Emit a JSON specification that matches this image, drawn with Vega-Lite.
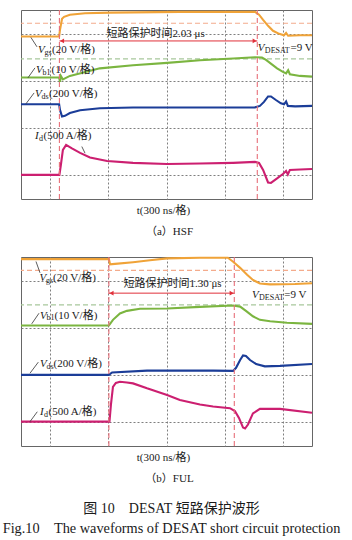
{
  "$schema": "https://vega.github.io/schema/vega-lite/v6.json",
  "autosize": {"type": "none"},
  "padding": {"left": 21, "top": 10, "right": 331, "bottom": 530},
  "background": "white",
  "spacing": 58,
  "bounds": "flush",
  "title": {
    "text": "图 10　DESAT 短路保护波形",
    "subtitle": "Fig.10　The waveforms of DESAT short circuit protection",
    "orient": "bottom", "anchor": "middle", "frame": "bounds",
    "offset": 17, "dx": 5,
    "font": "Liberation Serif, Noto Sans CJK SC", "fontSize": 14, "fontWeight": "normal", "color": "#1a1a1a",
    "subtitleFont": "Liberation Serif, Noto Sans CJK SC", "subtitleFontSize": 14.3, "subtitleColor": "#1a1a1a", "subtitlePadding": 6
  },
  "config": {
    "view": {"stroke": "#666666", "strokeWidth": 1},
    "text": {"font": "Liberation Serif, Noto Sans CJK SC", "fontSize": 11, "color": "#1a1a1a"},
    "title": {"font": "Liberation Serif, Noto Sans CJK SC", "fontSize": 11, "fontWeight": "normal", "color": "#1a1a1a"},
    "axis": {"grid": true, "gridColor": "#7f7f7f", "gridWidth": 1, "gridOpacity": 1, "gridDash": [2, 2], "labels": false, "ticks": false, "domain": false}
  },
  "datasets": {
    "a_tr": [
      {"s":"Vgs","t":0,"v":6.88},{"s":"Vgs","t":1.31,"v":6.88},{"s":"Vgs","t":1.34,"v":7.16},{"s":"Vgs","t":1.41,"v":7.63},{"s":"Vgs","t":1.48,"v":7.71},{"s":"Vgs","t":1.68,"v":7.80},{"s":"Vgs","t":2.2,"v":7.86},{"s":"Vgs","t":3.06,"v":7.89},{"s":"Vgs","t":5.46,"v":7.92},{"s":"Vgs","t":8.04,"v":7.92},{"s":"Vgs","t":8.18,"v":7.80},{"s":"Vgs","t":8.32,"v":7.58},{"s":"Vgs","t":8.49,"v":7.33},{"s":"Vgs","t":8.66,"v":7.12},{"s":"Vgs","t":8.87,"v":6.99},{"s":"Vgs","t":9.04,"v":6.93},{"s":"Vgs","t":9.11,"v":7.03},{"s":"Vgs","t":9.18,"v":6.91},{"s":"Vgs","t":9.59,"v":6.93},{"s":"Vgs","t":10,"v":6.93},
      {"s":"Vb1","t":0,"v":5.14},{"s":"Vb1","t":1.31,"v":5.14},{"s":"Vb1","t":1.34,"v":4.96},{"s":"Vb1","t":1.37,"v":5.21},{"s":"Vb1","t":1.44,"v":5.06},{"s":"Vb1","t":1.68,"v":5.21},{"s":"Vb1","t":2.71,"v":5.53},{"s":"Vb1","t":3.85,"v":5.66},{"s":"Vb1","t":5.02,"v":5.76},{"s":"Vb1","t":6.15,"v":5.87},{"s":"Vb1","t":7.29,"v":5.95},{"s":"Vb1","t":8.04,"v":6.0},{"s":"Vb1","t":8.28,"v":5.99},{"s":"Vb1","t":8.42,"v":5.89},{"s":"Vb1","t":8.80,"v":5.53},{"s":"Vb1","t":9.00,"v":5.38},{"s":"Vb1","t":9.11,"v":5.32},{"s":"Vb1","t":9.18,"v":5.45},{"s":"Vb1","t":9.24,"v":5.28},{"s":"Vb1","t":9.59,"v":5.21},{"s":"Vb1","t":10,"v":5.18},
      {"s":"Vds","t":0,"v":4.01},{"s":"Vds","t":1.31,"v":4.01},{"s":"Vds","t":1.34,"v":3.77},{"s":"Vds","t":1.41,"v":3.49},{"s":"Vds","t":1.51,"v":3.52},{"s":"Vds","t":1.68,"v":3.64},{"s":"Vds","t":2.03,"v":3.76},{"s":"Vds","t":2.71,"v":3.84},{"s":"Vds","t":3.85,"v":3.87},{"s":"Vds","t":6.15,"v":3.87},{"s":"Vds","t":8.04,"v":3.88},{"s":"Vds","t":8.21,"v":3.94},{"s":"Vds","t":8.35,"v":4.11},{"s":"Vds","t":8.49,"v":4.34},{"s":"Vds","t":8.59,"v":4.34},{"s":"Vds","t":8.76,"v":4.19},{"s":"Vds","t":8.93,"v":4.05},{"s":"Vds","t":9.04,"v":4.01},{"s":"Vds","t":9.11,"v":4.13},{"s":"Vds","t":9.17,"v":3.94},{"s":"Vds","t":9.42,"v":3.92},{"s":"Vds","t":10,"v":3.94},
      {"s":"Id","t":0,"v":1.02},{"s":"Id","t":1.32,"v":1.02},{"s":"Id","t":1.37,"v":1.44},{"s":"Id","t":1.44,"v":2.08},{"s":"Id","t":1.55,"v":2.29},{"s":"Id","t":1.75,"v":2.14},{"s":"Id","t":2.03,"v":1.95},{"s":"Id","t":2.37,"v":1.76},{"s":"Id","t":2.96,"v":1.61},{"s":"Id","t":3.85,"v":1.53},{"s":"Id","t":5.02,"v":1.48},{"s":"Id","t":6.15,"v":1.50},{"s":"Id","t":7.29,"v":1.53},{"s":"Id","t":8.04,"v":1.57},{"s":"Id","t":8.18,"v":1.53},{"s":"Id","t":8.32,"v":1.23},{"s":"Id","t":8.49,"v":0.70},{"s":"Id","t":8.59,"v":0.68},{"s":"Id","t":8.80,"v":0.87},{"s":"Id","t":9.00,"v":1.06},{"s":"Id","t":9.11,"v":1.19},{"s":"Id","t":9.17,"v":1.04},{"s":"Id","t":9.24,"v":1.23},{"s":"Id","t":9.59,"v":1.25},{"s":"Id","t":10,"v":1.27}
    ],
    "b_tr": [
      {"s":"Vgs","t":0,"v":7.91},{"s":"Vgs","t":3.02,"v":7.91},{"s":"Vgs","t":3.06,"v":7.69},{"s":"Vgs","t":3.23,"v":7.71},{"s":"Vgs","t":3.85,"v":7.78},{"s":"Vgs","t":4.43,"v":7.86},{"s":"Vgs","t":5.02,"v":7.94},{"s":"Vgs","t":6.15,"v":7.97},{"s":"Vgs","t":7.11,"v":7.97},{"s":"Vgs","t":7.29,"v":7.80},{"s":"Vgs","t":7.53,"v":7.54},{"s":"Vgs","t":7.77,"v":7.25},{"s":"Vgs","t":7.97,"v":7.03},{"s":"Vgs","t":8.21,"v":6.88},{"s":"Vgs","t":8.56,"v":6.84},{"s":"Vgs","t":9.42,"v":6.86},{"s":"Vgs","t":10,"v":6.89},
      {"s":"Vb1","t":0,"v":5.10},{"s":"Vb1","t":3.02,"v":5.10},{"s":"Vb1","t":3.16,"v":5.34},{"s":"Vb1","t":3.40,"v":5.61},{"s":"Vb1","t":3.64,"v":5.72},{"s":"Vb1","t":4.09,"v":5.81},{"s":"Vb1","t":5.02,"v":5.82},{"s":"Vb1","t":6.15,"v":5.89},{"s":"Vb1","t":7.29,"v":5.95},{"s":"Vb1","t":7.53,"v":5.90},{"s":"Vb1","t":7.73,"v":5.72},{"s":"Vb1","t":7.97,"v":5.49},{"s":"Vb1","t":8.21,"v":5.34},{"s":"Vb1","t":8.56,"v":5.28},{"s":"Vb1","t":9.14,"v":5.22},{"s":"Vb1","t":10,"v":5.17},
      {"s":"Vds","t":0,"v":3.01},{"s":"Vds","t":3.02,"v":3.01},{"s":"Vds","t":3.13,"v":3.11},{"s":"Vds","t":4.33,"v":3.19},{"s":"Vds","t":6.60,"v":3.19},{"s":"Vds","t":7.29,"v":3.18},{"s":"Vds","t":7.39,"v":3.31},{"s":"Vds","t":7.53,"v":3.64},{"s":"Vds","t":7.63,"v":3.83},{"s":"Vds","t":7.73,"v":3.81},{"s":"Vds","t":7.87,"v":3.64},{"s":"Vds","t":8.08,"v":3.47},{"s":"Vds","t":8.38,"v":3.37},{"s":"Vds","t":8.90,"v":3.39},{"s":"Vds","t":10,"v":3.47},
      {"s":"Id","t":0,"v":1.03},{"s":"Id","t":3.04,"v":1.03},{"s":"Id","t":3.09,"v":1.74},{"s":"Id","t":3.16,"v":2.50},{"s":"Id","t":3.26,"v":2.67},{"s":"Id","t":3.40,"v":2.72},{"s":"Id","t":3.64,"v":2.69},{"s":"Id","t":3.85,"v":2.65},{"s":"Id","t":4.33,"v":2.44},{"s":"Id","t":5.02,"v":2.16},{"s":"Id","t":5.46,"v":1.95},{"s":"Id","t":6.15,"v":1.76},{"s":"Id","t":6.60,"v":1.67},{"s":"Id","t":7.18,"v":1.60},{"s":"Id","t":7.35,"v":1.48},{"s":"Id","t":7.49,"v":1.19},{"s":"Id","t":7.63,"v":0.78},{"s":"Id","t":7.70,"v":0.74},{"s":"Id","t":7.80,"v":0.91},{"s":"Id","t":7.97,"v":1.38},{"s":"Id","t":8.21,"v":1.57},{"s":"Id","t":8.90,"v":1.57},{"s":"Id","t":10,"v":1.41}
    ],
    "a_href": [{"s":"refO","v":7.44},{"s":"refG","v":5.93}],
    "b_href": [{"s":"refO","v":7.43},{"s":"refG","v":5.97}],
    "a_vref": [{"t":1.32},{"t":8.12}],
    "b_vref": [{"t":3.02},{"t":7.33}],
    "a_arrow": [{"t":1.32,"t2":8.12,"v":6.69}],
    "b_arrow": [{"t":3.02,"t2":7.33,"v":6.47}],
    "a_head": [{"d":"L","t":1.41,"v":6.69},{"d":"R","t":8.03,"v":6.69}],
    "b_head": [{"d":"L","t":3.11,"v":6.47},{"d":"R","t":7.24,"v":6.47}],
    "a_lead": [{"t":0.34,"v":6.84,"t2":0.55,"v2":6.44},{"t":0.24,"v":5.13,"t2":0.48,"v2":5.55},{"t":0.17,"v":4.03,"t2":0.45,"v2":4.49},{"t":2.09,"v":2.22,"t2":2.20,"v2":1.94}],
    "b_lead": [{"t":0.515,"v":7.81,"t2":0.653,"v2":7.33},{"t":0.368,"v":5.17,"t2":0.619,"v2":5.62},{"t":0.309,"v":3.08,"t2":0.595,"v2":3.55},{"t":0.309,"v":1.03,"t2":0.56,"v2":1.45}],
    "a_txt": [
      {"k":"it","t":0.584,"v":6.31,"txt":"V"},{"k":"it","t":0.515,"v":5.44,"txt":"V"},{"k":"it","t":0.481,"v":4.45,"txt":"V"},{"k":"it","t":0.481,"v":2.67,"txt":"I"},{"k":"it","t":8.14,"v":6.40,"txt":"V"},
      {"k":"sub","t":0.808,"v":6.19,"txt":"gs"},{"k":"sub","t":0.739,"v":5.32,"txt":"b1"},{"k":"sub","t":0.704,"v":4.32,"txt":"ds"},{"k":"sub","t":0.619,"v":2.54,"txt":"d"},{"k":"sub","t":8.38,"v":6.27,"txt":"DESAT"},
      {"k":"norm","t":1.065,"v":6.31,"txt":"(20 V/格)"},{"k":"norm","t":1.05,"v":5.44,"txt":"(10 V/格)"},{"k":"norm","t":0.962,"v":4.45,"txt":"(200 V/格)"},{"k":"norm","t":0.773,"v":2.67,"txt":"(500 A/格)"},{"k":"norm","t":9.26,"v":6.40,"txt":"=9 V"},{"k":"norm","t":2.94,"v":6.97,"txt":"短路保护时间2.03 μs"}
    ],
    "b_txt": [
      {"k":"it","t":0.636,"v":7.11,"txt":"V"},{"k":"it","t":0.653,"v":5.52,"txt":"V"},{"k":"it","t":0.653,"v":3.46,"txt":"V"},{"k":"it","t":0.653,"v":1.45,"txt":"I"},{"k":"it","t":7.94,"v":6.40,"txt":"V"},
      {"k":"sub","t":0.859,"v":6.97,"txt":"gs"},{"k":"sub","t":0.876,"v":5.40,"txt":"b1"},{"k":"sub","t":0.876,"v":3.33,"txt":"ds"},{"k":"sub","t":0.790,"v":1.33,"txt":"d"},{"k":"sub","t":8.18,"v":6.25,"txt":"DESAT"},
      {"k":"norm","t":1.10,"v":7.11,"txt":"(20 V/格)"},{"k":"norm","t":1.15,"v":5.52,"txt":"(10 V/格)"},{"k":"norm","t":1.117,"v":3.46,"txt":"(200 V/格)"},{"k":"norm","t":0.945,"v":1.45,"txt":"(500 A/格)"},{"k":"norm","t":9.05,"v":6.40,"txt":"=9 V"},{"k":"norm","t":3.52,"v":6.85,"txt":"短路保护时间1.30 μs"}
    ]
  },
  "vconcat": [
    {
      "width": 291, "height": 189,
      "title": {"text": "（a）HSF", "orient": "bottom", "offset": 11, "dx": 3, "fontSize": 11},
      "layer": [
        {"data": {"name": "a_href"}, "mark": {"type": "rule", "strokeDash": [5, 3], "strokeWidth": 1.2},
         "encoding": {"y": {"field": "v", "type": "quantitative", "scale": {"domain": [0, 8], "nice": false, "zero": false},
           "axis": {"values": [1,2,3,4,5,6,7], "title": null}},
           "color": {"field": "s", "type": "nominal", "legend": null, "scale": {"domain": ["Vgs","Vb1","Vds","Id","refO","refG"], "range": ["#F0A338","#7BB540","#1B3D98","#CC1F70","#F4AB8C","#A8C89C"]}}}},
        {"data": {"name": "a_tr"}, "mark": {"type": "line", "strokeWidth": 2.1},
         "encoding": {"x": {"field": "t", "type": "quantitative", "scale": {"domain": [0, 10], "nice": false, "zero": false},
           "axis": {"values": [1,2,3,4,5,6,7,8,9], "title": "t(300 ns/格)", "titleX": 142, "titleAlign": "center", "titlePadding": 5, "titleFontWeight": "normal", "titleFont": "Liberation Serif, Noto Sans CJK SC", "titleFontSize": 11, "titleColor": "#1a1a1a"}},
           "y": {"field": "v", "type": "quantitative"},
           "color": {"field": "s", "type": "nominal", "legend": null}}},
        {"data": {"name": "a_vref"}, "mark": {"type": "rule", "strokeDash": [5, 3], "strokeWidth": 1.1, "color": "#E8707A"},
         "encoding": {"x": {"field": "t", "type": "quantitative"}}},
        {"data": {"name": "a_arrow"}, "mark": {"type": "rule", "strokeWidth": 1, "color": "#E0303A"},
         "encoding": {"x": {"field": "t", "type": "quantitative"}, "x2": {"field": "t2"}, "y": {"field": "v", "type": "quantitative"}}},
        {"data": {"name": "a_head"}, "mark": {"type": "point", "filled": true, "size": 22, "color": "#E0303A", "opacity": 1},
         "encoding": {"x": {"field": "t", "type": "quantitative"}, "y": {"field": "v", "type": "quantitative"},
           "shape": {"field": "d", "type": "nominal", "legend": null, "scale": {"domain": ["L","R"], "range": ["triangle-left","triangle-right"]}}}},
        {"data": {"name": "a_lead"}, "mark": {"type": "rule", "strokeWidth": 0.8, "color": "#333333"},
         "encoding": {"x": {"field": "t", "type": "quantitative"}, "y": {"field": "v", "type": "quantitative"}, "x2": {"field": "t2"}, "y2": {"field": "v2"}}},
        {"data": {"name": "a_txt"}, "transform": [{"filter": "datum.k == 'it'"}], "mark": {"type": "text", "align": "left", "baseline": "middle", "fontStyle": "italic", "fontSize": 11},
         "encoding": {"x": {"field": "t", "type": "quantitative"}, "y": {"field": "v", "type": "quantitative"}, "text": {"field": "txt"}}},
        {"data": {"name": "a_txt"}, "transform": [{"filter": "datum.k == 'sub'"}], "mark": {"type": "text", "align": "left", "baseline": "middle", "fontSize": 8},
         "encoding": {"x": {"field": "t", "type": "quantitative"}, "y": {"field": "v", "type": "quantitative"}, "text": {"field": "txt"}}},
        {"data": {"name": "a_txt"}, "transform": [{"filter": "datum.k == 'norm'"}], "mark": {"type": "text", "align": "left", "baseline": "middle", "fontSize": 11},
         "encoding": {"x": {"field": "t", "type": "quantitative"}, "y": {"field": "v", "type": "quantitative"}, "text": {"field": "txt"}}}
      ]
    },
    {
      "width": 291, "height": 189,
      "title": {"text": "（b）FUL", "orient": "bottom", "offset": 11, "dx": 3, "fontSize": 11},
      "layer": [
        {"data": {"name": "b_href"}, "mark": {"type": "rule", "strokeDash": [5, 3], "strokeWidth": 1.2},
         "encoding": {"y": {"field": "v", "type": "quantitative", "scale": {"domain": [0, 8], "nice": false, "zero": false},
           "axis": {"values": [1,2,3,4,5,6,7], "title": null}},
           "color": {"field": "s", "type": "nominal", "legend": null, "scale": {"domain": ["Vgs","Vb1","Vds","Id","refO","refG"], "range": ["#F0A338","#7BB540","#1B3D98","#CC1F70","#F4AB8C","#A8C89C"]}}}},
        {"data": {"name": "b_tr"}, "mark": {"type": "line", "strokeWidth": 2.1},
         "encoding": {"x": {"field": "t", "type": "quantitative", "scale": {"domain": [0, 10], "nice": false, "zero": false},
           "axis": {"values": [1,2,3,4,5,6,7,8,9], "title": "t(300 ns/格)", "titleX": 142, "titleAlign": "center", "titlePadding": 5, "titleFontWeight": "normal", "titleFont": "Liberation Serif, Noto Sans CJK SC", "titleFontSize": 11, "titleColor": "#1a1a1a"}},
           "y": {"field": "v", "type": "quantitative"},
           "color": {"field": "s", "type": "nominal", "legend": null}}},
        {"data": {"name": "b_vref"}, "mark": {"type": "rule", "strokeDash": [5, 3], "strokeWidth": 1.1, "color": "#E8707A"},
         "encoding": {"x": {"field": "t", "type": "quantitative"}}},
        {"data": {"name": "b_arrow"}, "mark": {"type": "rule", "strokeWidth": 1, "color": "#E0303A"},
         "encoding": {"x": {"field": "t", "type": "quantitative"}, "x2": {"field": "t2"}, "y": {"field": "v", "type": "quantitative"}}},
        {"data": {"name": "b_head"}, "mark": {"type": "point", "filled": true, "size": 22, "color": "#E0303A", "opacity": 1},
         "encoding": {"x": {"field": "t", "type": "quantitative"}, "y": {"field": "v", "type": "quantitative"},
           "shape": {"field": "d", "type": "nominal", "legend": null, "scale": {"domain": ["L","R"], "range": ["triangle-left","triangle-right"]}}}},
        {"data": {"name": "b_lead"}, "mark": {"type": "rule", "strokeWidth": 0.8, "color": "#333333"},
         "encoding": {"x": {"field": "t", "type": "quantitative"}, "y": {"field": "v", "type": "quantitative"}, "x2": {"field": "t2"}, "y2": {"field": "v2"}}},
        {"data": {"name": "b_txt"}, "transform": [{"filter": "datum.k == 'it'"}], "mark": {"type": "text", "align": "left", "baseline": "middle", "fontStyle": "italic", "fontSize": 11},
         "encoding": {"x": {"field": "t", "type": "quantitative"}, "y": {"field": "v", "type": "quantitative"}, "text": {"field": "txt"}}},
        {"data": {"name": "b_txt"}, "transform": [{"filter": "datum.k == 'sub'"}], "mark": {"type": "text", "align": "left", "baseline": "middle", "fontSize": 8},
         "encoding": {"x": {"field": "t", "type": "quantitative"}, "y": {"field": "v", "type": "quantitative"}, "text": {"field": "txt"}}},
        {"data": {"name": "b_txt"}, "transform": [{"filter": "datum.k == 'norm'"}], "mark": {"type": "text", "align": "left", "baseline": "middle", "fontSize": 11},
         "encoding": {"x": {"field": "t", "type": "quantitative"}, "y": {"field": "v", "type": "quantitative"}, "text": {"field": "txt"}}}
      ]
    }
  ]
}
